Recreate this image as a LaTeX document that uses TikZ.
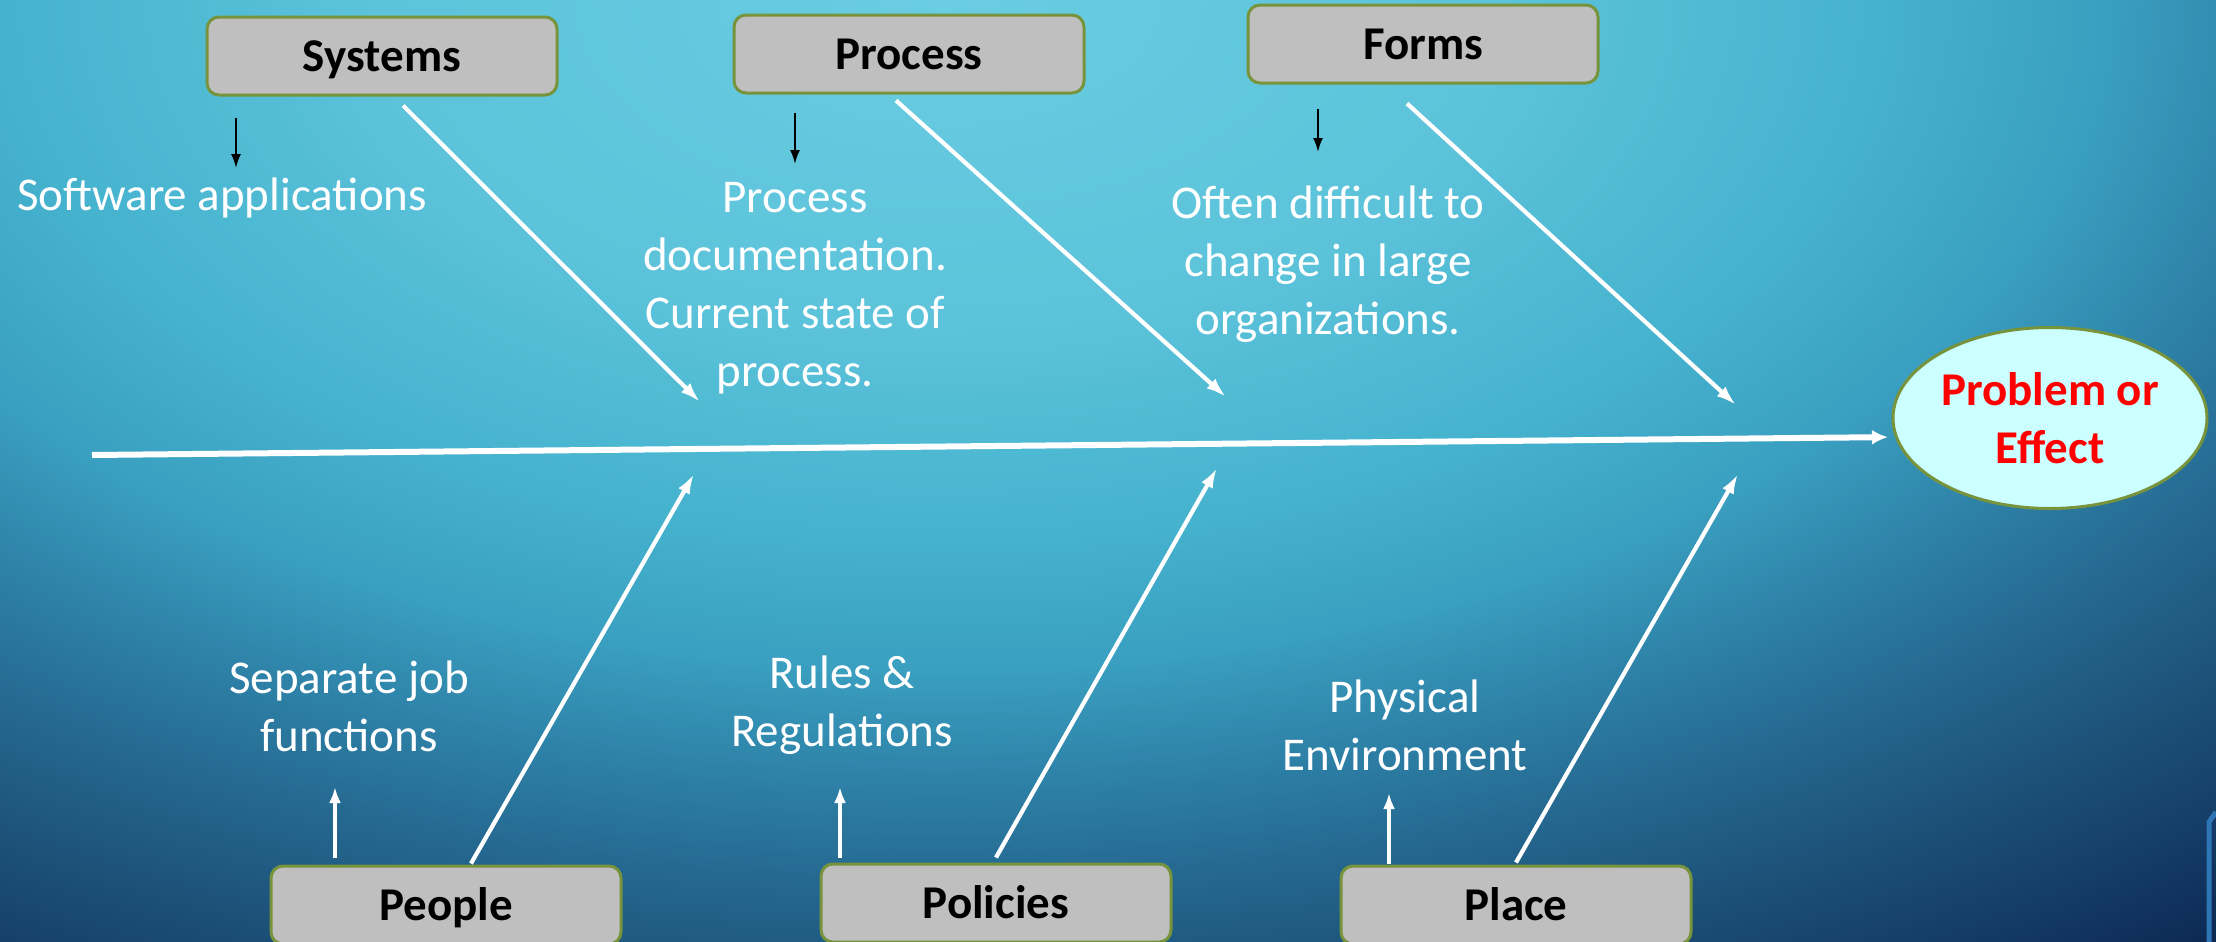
\documentclass[tikz,border=0pt]{standalone}
\usepackage{fontspec}
\setmainfont{Carlito}
\usetikzlibrary{arrows.meta,shapes.geometric}

\definecolor{boxgray}{HTML}{BFBFBF}
\definecolor{leaf}{HTML}{77933C}
\definecolor{effectfill}{HTML}{CCFFFF}
\definecolor{decoblue}{HTML}{2E75B6}
\definecolor{bgA}{HTML}{6ACDE2}
\definecolor{bgB}{HTML}{5CC3DA}
\definecolor{bgC}{HTML}{45B2CE}
\definecolor{bgD}{HTML}{3A9FC0}
\definecolor{bgE}{HTML}{2E82A8}
\definecolor{bgF}{HTML}{256890}
\definecolor{bgG}{HTML}{1D5279}
\definecolor{bgH}{HTML}{143C66}
\definecolor{bgI}{HTML}{0B2550}

\pgfdeclareradialshading{seabg}{\pgfpoint{0bp}{0bp}}{%
  color(0bp)=(bgA); color(3.75bp)=(bgB); color(6.25bp)=(bgC); color(7.75bp)=(bgD);
  color(9bp)=(bgE); color(10.25bp)=(bgF); color(11.5bp)=(bgG); color(12.75bp)=(bgH);
  color(14bp)=(bgI); color(50bp)=(bgI)}

\begin{document}
\begin{tikzpicture}[x=0.5pt, y=-0.5pt,
    cause/.style={draw=leaf, line width=1.5pt, fill=boxgray, rounded corners=6pt,
      minimum width=175pt, minimum height=39pt, inner sep=0pt,
      text height=15pt, text depth=0pt, font=\fontsize{23.5}{29}\selectfont\bfseries},
    result/.style={ellipse, draw=leaf, line width=1.5pt, fill=effectfill, text=red,
      minimum width=157pt, minimum height=90.5pt, inner sep=0pt, align=center,
      font=\fontsize{23.5}{29}\selectfont\bfseries},
    note/.style={text=white, align=center, inner sep=0pt, font=\fontsize{23.5}{29}\selectfont},
    spine/.style={white, line width=3pt, -{Latex[length=8pt,width=7.5pt]}},
    bone/.style={white, line width=2.1pt, -{Latex[length=10pt,width=6.5pt]}},
    hint/.style={black, line width=1pt, -{Latex[length=7pt,width=5pt]}},
    lift/.style={white, line width=1.6pt, -{Latex[length=8pt,width=6pt]}}]

    \useasboundingbox (0,0) rectangle (2216,942);

    % Background
    \begin{scope}
      \clip (0,0) rectangle (2216,942);
      \shade[shading=seabg] (940,0) ellipse [x radius=3760, y radius=2160];
    \end{scope}
    \draw[decoblue, line width=2.5pt] (2209,942) -- (2209,822) -- (2216,812);

    % Cause boxes, top row
    \node[cause] (sys) at (382,56) {Systems};
    \node[cause] (proc) at (909,54) {Process};
    \node[cause] (forms) at (1423,44) {Forms};

    % Cause boxes, bottom row
    \node[cause] (people) at (446,905) {People};
    \node[cause] (pol) at (996,903) {Policies};
    \node[cause] (place) at (1516,905) {Place};

    % Effect
    \node[result] (effect) at (2050,418) {Problem or\\Effect};

    % Notes
    \node[note, anchor=base] (softTxt) at (222,210) {Software applications};
    \node[note, anchor=north] (procTxt) at (795,182) {Process\\documentation.\\Current state of\\process.};
    \node[note, anchor=north] (formsTxt) at (1328,185) {Often difficult to\\change in large\\organizations.};
    \node[note, anchor=north] (peopleTxt) at (349,660) {Separate job\\functions};
    \node[note, anchor=north] (polTxt) at (842,655) {Rules \&\\Regulations};
    \node[note, anchor=north] (placeTxt) at (1405,679) {Physical\\Environment};

    % Spine
    \coordinate (tail) at (92,455);
    \draw[spine, shorten >=3.5pt] (tail) -- (effect.187);

    % Bones, top
    \coordinate (sysEnd) at (700,402);
    \coordinate (procEnd) at (1226,397);
    \coordinate (formsEnd) at (1736,405);
    \draw[bone] ([shift={(21,9)}]sys.south) -- (sysEnd);
    \draw[bone] ([shift={(-13,6)}]proc.south) -- (procEnd);
    \draw[bone] ([shift={(-16,19)}]forms.south) -- (formsEnd);

    % Bones, bottom
    \coordinate (peopleEnd) at (694,474);
    \coordinate (polEnd) at (1217,468);
    \coordinate (placeEnd) at (1738,474);
    \draw[bone] ([shift={(25,-1)}]people.north) -- (peopleEnd);
    \draw[bone] ([shift={(0,-5)}]pol.north) -- (polEnd);
    \draw[bone] ([shift={(0,-2)}]place.north) -- (placeEnd);

    % Small arrows to the notes
    \coordinate (sysDn) at (236,168);
    \coordinate (procDn) at (795,164);
    \coordinate (formsDn) at (1318,152);
    \draw[hint] ([shift={(-146,21)}]sys.south) -- (sysDn);
    \draw[hint] ([shift={(-114,18)}]proc.south) -- (procDn);
    \draw[hint] ([shift={(-105,24)}]forms.south) -- (formsDn);

    \coordinate (peopleUp) at (335,787);
    \coordinate (polUp) at (840,787);
    \coordinate (placeUp) at (1389,793);
    \draw[lift] ([shift={(-111,-7)}]people.north) -- (peopleUp);
    \draw[lift] ([shift={(-156,-5)}]pol.north) -- (polUp);
    \draw[lift] ([shift={(-127,-1)}]place.north) -- (placeUp);
\end{tikzpicture}
\end{document}
